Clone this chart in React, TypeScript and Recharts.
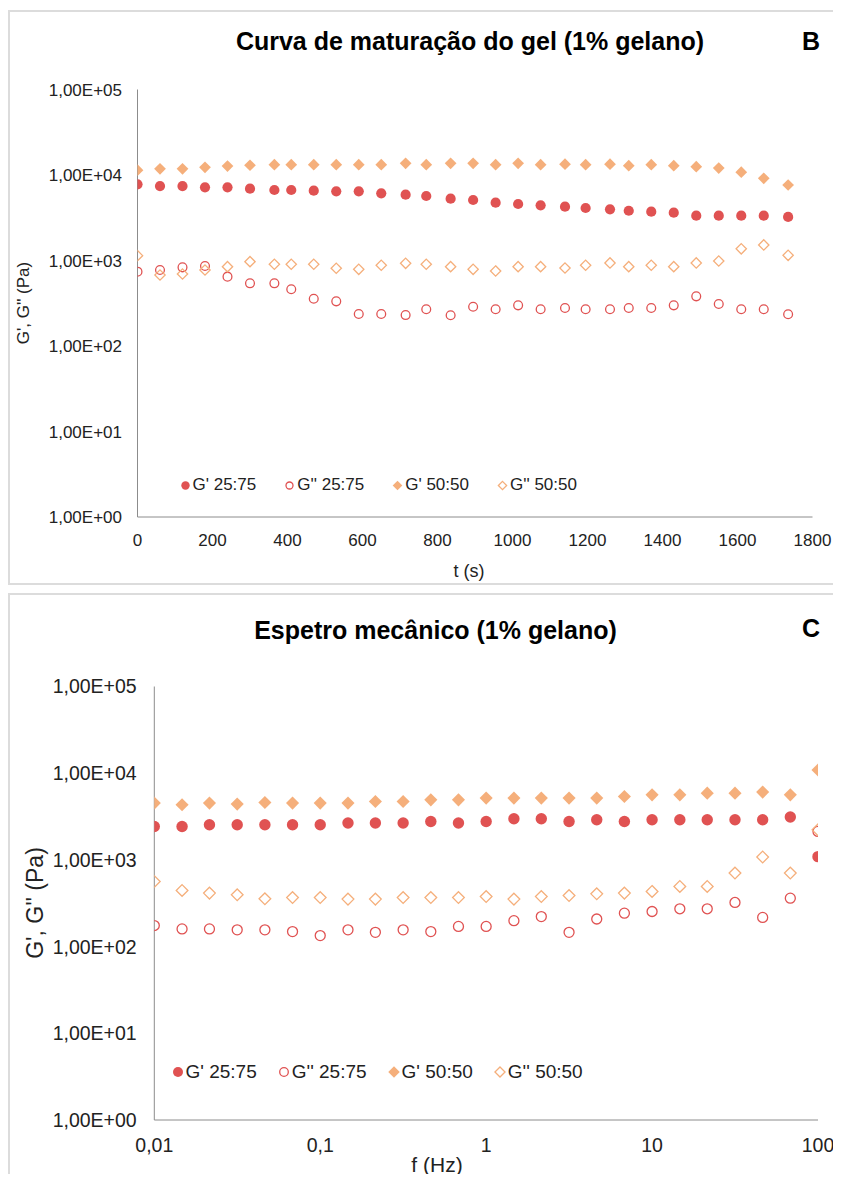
import React from 'react';
import { ScatterChart, Scatter, XAxis, YAxis, Legend } from 'recharts';

const RED = '#E05252';
const ORANGE = '#F5AF7B';
const AXIS = '#8c8c8c';
const TEXT = '#222';
const FONT = '"Liberation Sans", Arial, sans-serif';

// B - curva de maturação do gel (t em s)
const maturationTime = [
  0, 60, 120, 180, 240, 300, 365, 410, 470, 530, 590, 650, 715, 770, 835,
  895, 955, 1015, 1075, 1140, 1195, 1260, 1310, 1370, 1430, 1490, 1550, 1610, 1670, 1735,
];
const matGp2575 = [
  7780, 7430, 7430, 7180, 7180, 6920, 6680, 6680, 6550, 6440, 6440, 6110, 5890, 5680, 5280,
  5100, 4750, 4580, 4420, 4260, 4110, 3970, 3820, 3720, 3630, 3340, 3340, 3340, 3340, 3230,
];
const matGpp2575 = [
  740, 774, 832, 862, 647, 541, 541, 461, 357, 333, 237, 237, 230, 269, 229,
  288, 269, 299, 269, 278, 269, 269, 278, 278, 299, 381, 310, 269, 269, 235,
];
const matGp5050 = [
  11400, 11800, 11800, 12300, 12700, 13000, 13200, 13200, 13200, 13200, 13200, 13200, 13700, 13200, 13700,
  13700, 13200, 13700, 13200, 13400, 13200, 13400, 12850, 13200, 12850, 12500, 12070, 10800, 9150, 7640,
];
const matGpp5050 = [
  1140, 676, 695, 774, 847, 969, 903, 903, 903, 811, 789, 879, 927, 903, 847,
  789, 754, 847, 847, 817, 879, 936, 847, 879, 847, 936, 986, 1370, 1520, 1150,
];

// C - espetro mecânico (f em Hz)
const frequencies = [
  0.01, 0.0147, 0.0215, 0.0316, 0.0464, 0.0681, 0.1, 0.147, 0.215, 0.316, 0.464, 0.681,
  1, 1.47, 2.15, 3.16, 4.64, 6.81, 10, 14.7, 21.5, 31.6, 46.4, 68.1, 100,
];
const specGp2575 = [
  2430, 2430, 2540, 2540, 2540, 2540, 2540, 2660, 2660, 2660, 2770, 2660,
  2770, 2980, 2980, 2770, 2900, 2770, 2900, 2900, 2900, 2900, 2900, 3120, 1090,
];
const specGpp2575 = [
  175, 160, 160, 156, 156, 149, 134, 156, 146, 156, 149, 171,
  171, 199, 222, 146, 208, 243, 254, 273, 273, 323, 217, 362, 2130,
];
const specGp5050 = [
  4520, 4320, 4520, 4400, 4590, 4520, 4520, 4520, 4720, 4720, 4930, 4930,
  5160, 5160, 5160, 5160, 5160, 5390, 5630, 5630, 5890, 5890, 6050, 5630, 10900,
];
const specGpp5050 = [
  564, 444, 414, 396, 356, 368, 368, 353, 353, 368, 368, 368,
  378, 353, 378, 388, 406, 414, 433, 494, 494, 705, 1080, 705, 2220,
];

const modulusTicks = [1, 10, 100, 1000, 10000, 100000];
const timeTicks = [0, 200, 400, 600, 800, 1000, 1200, 1400, 1600, 1800];
const freqTicks = [0.01, 0.1, 1, 10, 100];
const seriesNames = ["G' 25:75", "G'' 25:75", "G' 50:50", "G'' 50:50"];

type Kind = 'circle' | 'diamond';
const seriesStyle: { color: string; kind: Kind; filled: boolean }[] = [
  { color: RED, kind: 'circle', filled: true },
  { color: RED, kind: 'circle', filled: false },
  { color: ORANGE, kind: 'diamond', filled: true },
  { color: ORANGE, kind: 'diamond', filled: false },
];

const sciLabel = (v: number) => `1,00E+0${Math.round(Math.log10(v))}`;
const commaLabel = (v: number) => String(v).replace('.', ',');
const toPoints = (xs: number[], ys: number[]) => xs.map((x, i) => ({ x, y: ys[i] }));

function drawMarker(cx: number, cy: number, kind: Kind, filled: boolean, color: string, size: number) {
  if (kind === 'circle') {
    return filled ? (
      <circle cx={cx} cy={cy} r={size} fill={color} />
    ) : (
      <circle cx={cx} cy={cy} r={size - 0.7} fill="none" stroke={color} strokeWidth={1.3} />
    );
  }
  const h = filled ? size * 1.15 : size * 1.15 - 0.7;
  const pts = `${cx},${cy - h} ${cx + h},${cy} ${cx},${cy + h} ${cx - h},${cy}`;
  return filled ? (
    <polygon points={pts} fill={color} />
  ) : (
    <polygon points={pts} fill="none" stroke={color} strokeWidth={1.3} />
  );
}

function LegendRow({ fontSize, size, gap }: { fontSize: number; size: number; gap: number }) {
  const box = Math.ceil(size * 2.4);
  return (
    <div style={{ display: 'flex', alignItems: 'center', fontSize, lineHeight: `${fontSize + 3}px`, color: TEXT, whiteSpace: 'nowrap', fontFamily: FONT }}>
      {seriesNames.map((name, i) => (
        <span key={name} style={{ display: 'inline-flex', alignItems: 'center', marginRight: gap }}>
          <svg width={box} height={box}>
            {drawMarker(box / 2, box / 2, seriesStyle[i].kind, seriesStyle[i].filled, seriesStyle[i].color, size)}
          </svg>
          <span style={{ marginLeft: 2 }}>{name}</span>
        </span>
      ))}
    </div>
  );
}

type ChartProps = {
  xs: number[];
  values: number[][];
  logX: boolean;
  xDomain: [number, number];
  xTicks: number[];
  width: number;
  height: number;
  margin: { top: number; right: number; bottom: number; left: number };
  tickFont: number;
  yTickMargin: number;
  xTickMargin: number;
  markerSize: number;
  xTitle: { text: string; x: number; y: number; size: number };
  yTitle: { x: number; y: number; size: number };
  legend: { left: number; top: number; fontSize: number; size: number; gap: number };
};

function ModulusChart(p: ChartProps) {
  return (
    <ScatterChart width={p.width} height={p.height} margin={p.margin}>
      <XAxis
        type="number"
        dataKey="x"
        scale={p.logX ? 'log' : 'linear'}
        domain={p.xDomain}
        ticks={p.xTicks}
        interval={0}
        allowDataOverflow
        tickFormatter={p.logX ? commaLabel : undefined}
        tickLine={false}
        axisLine={{ stroke: AXIS }}
        tick={{ fontSize: p.tickFont, fill: TEXT }}
        tickMargin={p.xTickMargin}
        height={40}
        label={() => (
          <text x={p.xTitle.x} y={p.xTitle.y} textAnchor="middle" dominantBaseline="central" fontSize={p.xTitle.size} fill={TEXT}>
            {p.xTitle.text}
          </text>
        )}
      />
      <YAxis
        type="number"
        dataKey="y"
        scale="log"
        domain={[1, 100000]}
        ticks={modulusTicks}
        interval={0}
        allowDataOverflow
        tickFormatter={sciLabel}
        tickLine={false}
        axisLine={{ stroke: AXIS }}
        tick={{ fontSize: p.tickFont, fill: TEXT }}
        tickMargin={p.yTickMargin}
        width={110}
        label={() => (
          <text
            x={p.yTitle.x}
            y={p.yTitle.y}
            textAnchor="middle"
            dominantBaseline="central"
            fontSize={p.yTitle.size}
            fill={TEXT}
            transform={`rotate(-90 ${p.yTitle.x} ${p.yTitle.y})`}
          >
            G', G'' (Pa)
          </text>
        )}
      />
      {seriesNames.map((name, i) => {
        const st = seriesStyle[i];
        return (
          <Scatter
            key={name}
            name={name}
            data={toPoints(p.xs, p.values[i])}
            fill={st.color}
            isAnimationActive={false}
            shape={(props: any) => drawMarker(props.cx, props.cy, st.kind, st.filled, st.color, p.markerSize)}
          />
        );
      })}
      <Legend
        layout="horizontal"
        verticalAlign="middle"
        align="center"
        wrapperStyle={{ left: p.legend.left, top: p.legend.top, width: 'auto' }}
        content={() => <LegendRow fontSize={p.legend.fontSize} size={p.legend.size} gap={p.legend.gap} />}
      />
    </ScatterChart>
  );
}

const panelBorder = '2px solid #dcdcdc';
const titleStyle: React.CSSProperties = { position: 'absolute', fontSize: 25, lineHeight: '25px', fontWeight: 700, whiteSpace: 'nowrap', color: '#000' };

export default function App() {
  return (
    <div style={{ position: 'relative', width: 833, height: 1174, marginBottom: -8, overflow: 'hidden', fontFamily: FONT, background: '#fff' }}>
      <div style={{ position: 'absolute', left: 0, top: 2, width: 900, height: 575, border: panelBorder, boxSizing: 'border-box' }} />
      <div style={{ position: 'absolute', left: 0, top: 585, width: 900, height: 700, border: panelBorder, boxSizing: 'border-box' }} />

      <div style={{ ...titleStyle, left: 462, top: 21.3, transform: 'translateX(-50%)' }}>
        Curva de maturação do gel (1% gelano)
      </div>
      <div style={{ ...titleStyle, left: 794, top: 21.3 }}>B</div>

      <div style={{ ...titleStyle, left: 427.5, top: 609.8, transform: 'translateX(-50%)' }}>
        Espetro mecânico (1% gelano)
      </div>
      <div style={{ ...titleStyle, left: 794, top: 607.8 }}>C</div>

      <div style={{ position: 'absolute', left: 0, top: 0 }}>
        <ModulusChart
          xs={maturationTime}
          values={[matGp2575, matGpp2575, matGp5050, matGpp5050]}
          logX={false}
          xDomain={[0, 1800]}
          xTicks={timeTicks}
          width={830}
          height={575}
          margin={{ top: 81.5, right: 25.5, bottom: 26, left: 19.5 }}
          tickFont={17}
          yTickMargin={9.5}
          xTickMargin={11}
          markerSize={5.1}
          xTitle={{ text: 't (s)', x: 461, y: 563, size: 18 }}
          yTitle={{ x: 15, y: 295, size: 17 }}
          legend={{ left: 171.5, top: 467, fontSize: 17, size: 4.2, gap: 28 }}
        />
      </div>

      <div style={{ position: 'absolute', left: 0, top: 585 }}>
        <ModulusChart
          xs={frequencies}
          values={[specGp2575, specGpp2575, specGp5050, specGpp5050]}
          logX={true}
          xDomain={[0.01, 100]}
          xTicks={freqTicks}
          width={830}
          height={589}
          margin={{ top: 93.5, right: 20, bottom: 22, left: 36.3 }}
          tickFont={19.5}
          yTickMargin={11.6}
          xTickMargin={12}
          markerSize={5.7}
          xTitle={{ text: 'f (Hz)', x: 429, y: 571, size: 21 }}
          yTitle={{ x: 27, y: 310, size: 23 }}
          legend={{ left: 163.5, top: 467.7, fontSize: 19, size: 5, gap: 21 }}
        />
      </div>
    </div>
  );
}
